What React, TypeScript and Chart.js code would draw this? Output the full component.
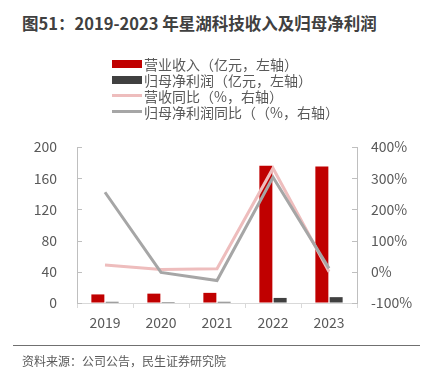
import React, { useEffect, useRef } from "react";
import { Chart, registerables } from "chart.js";

Chart.register(...registerables);

const years = ["2019", "2020", "2021", "2022", "2023"];
const revenue = [11, 12, 13, 176, 175];
const netProfit = [1.5, 1.2, 1.5, 6.5, 7.5];
const revenueYoY = [22, 7, 10, 332, 0];
const profitYoY = [255, -2, -28, 303, 11];
const leftTicks = [0, 40, 80, 120, 160, 200];
const rightTicks = [-100, 0, 100, 200, 300, 400];

const seriesNames = [
  "营业收入（亿元，左轴）",
  "归母净利润（亿元，左轴）",
  "营收同比（%，右轴）",
  "归母净利润同比（（%，右轴）",
];

const RED = "#c00000";
const DARK = "#404040";
const PINK = "#eebdbd";
const GRAY = "#a6a6a6";
const FONT = "'Noto Sans CJK SC', 'Noto Sans', sans-serif";

const innerTicks = {
  id: "innerTicks",
  afterDatasetsDraw(chart: any) {
    const ctx = chart.ctx;
    const area = chart.chartArea;
    ctx.save();
    ctx.strokeStyle = "#bfbfbf";
    ctx.lineWidth = 1;
    const y = chart.scales.y;
    leftTicks.forEach((v) => {
      const py = Math.round(y.getPixelForValue(v)) + 0.5;
      ctx.beginPath();
      ctx.moveTo(area.left, py);
      ctx.lineTo(area.left + 5, py);
      ctx.stroke();
    });
    const y1 = chart.scales.y1;
    rightTicks.forEach((v) => {
      const py = Math.round(y1.getPixelForValue(v)) + 0.5;
      ctx.beginPath();
      ctx.moveTo(area.right, py);
      ctx.lineTo(area.right - 5, py);
      ctx.stroke();
    });
    ctx.restore();
  },
};

export default function App() {
  const ref = useRef<HTMLCanvasElement>(null);

  useEffect(() => {
    if (!ref.current) return;
    const chart = new Chart(ref.current, {
      type: "bar",
      data: {
        labels: years,
        datasets: [
          {
            type: "line",
            label: seriesNames[3],
            data: profitYoY,
            yAxisID: "y1",
            borderColor: GRAY,
            backgroundColor: GRAY,
            borderWidth: 3,
            pointRadius: 0,
            tension: 0,
            order: 0,
          },
          {
            type: "line",
            label: seriesNames[2],
            data: revenueYoY,
            yAxisID: "y1",
            borderColor: PINK,
            backgroundColor: PINK,
            borderWidth: 3,
            pointRadius: 0,
            tension: 0,
            order: 1,
          },
          {
            type: "bar",
            label: seriesNames[0],
            data: revenue,
            yAxisID: "y",
            backgroundColor: RED,
            categoryPercentage: 0.51,
            barPercentage: 0.91,
            order: 2,
          },
          {
            type: "bar",
            label: seriesNames[1],
            data: netProfit,
            yAxisID: "y",
            backgroundColor: DARK,
            categoryPercentage: 0.51,
            barPercentage: 0.91,
            order: 3,
          },
        ] as any,
      },
      options: {
        animation: false,
        responsive: false,
        devicePixelRatio: 1,
        layout: { padding: { top: 147, bottom: 32, left: 0, right: 0 } },
        plugins: { legend: { display: false }, tooltip: { enabled: false } },
        scales: {
          x: {
            afterFit: (s: any) => {
              s.height = 40;
            },
            grid: {
              drawOnChartArea: false,
              drawTicks: true,
              tickLength: 5,
              color: "#d9d9d9",
              offset: true,
            },
            border: { display: true, color: "#d9d9d9", width: 1 },
            ticks: {
              padding: 6,
              color: "#595959",
              font: { family: FONT, size: 14 },
            },
          },
          y: {
            position: "left",
            min: 0,
            max: 200,
            afterFit: (s: any) => {
              s.width = 77;
            },
            afterBuildTicks: (s: any) => {
              s.ticks = leftTicks.map((v) => ({ value: v }));
            },
            grid: { drawOnChartArea: false, drawTicks: false },
            border: { display: true, color: "#bfbfbf", width: 1 },
            ticks: {
              padding: 20,
              color: "#595959",
              font: { family: FONT, size: 14 },
            },
          },
          y1: {
            position: "right",
            min: -100,
            max: 400,
            afterFit: (s: any) => {
              s.width = 70;
            },
            afterBuildTicks: (s: any) => {
              s.ticks = rightTicks.map((v) => ({ value: v }));
            },
            grid: { drawOnChartArea: false, drawTicks: false },
            border: { display: true, color: "#bfbfbf", width: 1 },
            ticks: {
              padding: 14,
              color: "#595959",
              font: { family: FONT, size: 14 },
              callback: (v: any) => v + "%",
            },
          },
        },
      } as any,
      plugins: [innerTicks],
    });
    return () => chart.destroy();
  }, []);

  const legendItems = [
    { kind: "box", color: RED },
    { kind: "box", color: DARK },
    { kind: "line", color: PINK },
    { kind: "line", color: GRAY },
  ];

  return (
    <div
      style={{
        position: "absolute",
        left: 0,
        top: 0,
        width: 427,
        height: 375,
        background: "#fff",
        fontFamily: FONT,
        overflow: "hidden",
      }}
    >
      <div
        style={{
          position: "absolute",
          left: 22,
          top: 13,
          fontSize: 16.5,
          fontWeight: "bold",
          color: "#404040",
          lineHeight: "20px",
          whiteSpace: "nowrap",
        }}
      >
        图51：2019-2023 年星湖科技收入及归母净利润
      </div>
      <canvas
        ref={ref}
        width={427}
        height={375}
        style={{ position: "absolute", left: 0, top: 0, width: 427, height: 375 }}
      />
      {legendItems.map((it, i) => {
        const cy = 63.5 + i * 16;
        return (
          <React.Fragment key={i}>
            <div
              style={{
                position: "absolute",
                left: 112,
                top: it.kind === "box" ? cy - 4 : cy - 1.5,
                width: 30,
                height: it.kind === "box" ? 8 : 3,
                background: it.color,
              }}
            />
            <div
              style={{
                position: "absolute",
                left: 144,
                top: cy - 9,
                height: 18,
                lineHeight: "18px",
                fontSize: 14,
                color: "#595959",
                whiteSpace: "nowrap",
                textSpacingTrim: "space-all",
              } as any}
            >
              {seriesNames[i]}
            </div>
          </React.Fragment>
        );
      })}
      <div
        style={{
          position: "absolute",
          left: 13,
          top: 345,
          width: 407,
          height: 0,
          borderTop: "1.5px solid #707070",
        }}
      />
      <div
        style={{
          position: "absolute",
          left: 22,
          top: 353,
          fontSize: 12,
          lineHeight: "16px",
          color: "#595959",
          whiteSpace: "nowrap",
        }}
      >
        资料来源：公司公告，民生证券研究院
      </div>
    </div>
  );
}
